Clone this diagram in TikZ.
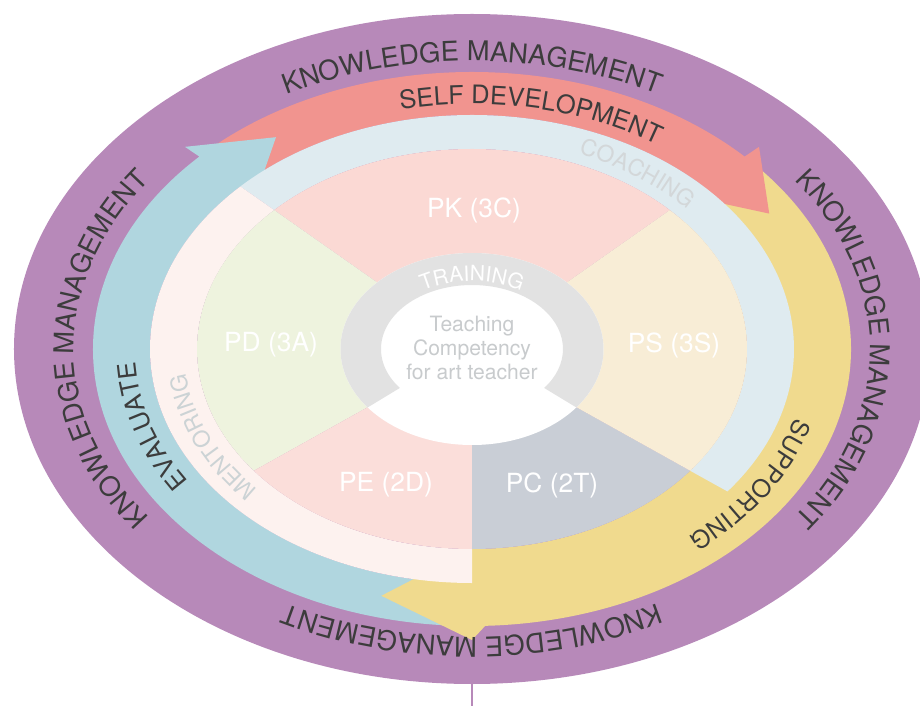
\documentclass[tikz,border=0pt]{standalone}
\usepackage{fontspec}
\setmainfont{TeX Gyre Heros}
\usepackage{tikz}
\usetikzlibrary{decorations.text}
\definecolor{kmpurple}{HTML}{B789B9}
\definecolor{selfred}{HTML}{F1948F}
\definecolor{suppyellow}{HTML}{F0DA8E}
\definecolor{evalblue}{HTML}{B0D6DF}
\definecolor{coachblue}{HTML}{DFEBF0}
\definecolor{mentorpink}{HTML}{FDF2EF}
\definecolor{pkpink}{HTML}{FBD9D4}
\definecolor{pepink}{HTML}{FBDEDA}
\definecolor{pdgreen}{HTML}{EEF3DE}
\definecolor{pscream}{HTML}{F8EDD6}
\definecolor{pcgray}{HTML}{C9CED6}
\definecolor{traingray}{HTML}{E2E2E2}
\definecolor{kmdark}{HTML}{3C3C3C}
\definecolor{coachtext}{HTML}{D3D7D9}
\definecolor{mentortext}{HTML}{CCD3D5}
\definecolor{centertext}{HTML}{C8CBCD}
\newcommand\kmfont{\fontsize{15.5}{18}\selectfont}
\newcommand\arrowfont{\fontsize{14.5}{17}\selectfont}
\newcommand\ringfont{\fontsize{13}{15}\selectfont}
\tikzset{
    % text written along a ring
    ringtext/.style 2 args={
           decorate,
           decoration={text along path,
                       text align=center,
                       text color=#1,
                       text={#2}}},
 %
    % labels of the five parts
    partlabel/.style={
           text=white,
           font=\fontsize{15}{18}\selectfont,
           inner sep=1pt},
 %
    centerlabel/.style={
           text=centertext,
           align=center,
           font=\fontsize{12}{13.7}\selectfont}
}
\begin{document}
\begin{tikzpicture}
  \clip (-9.44,-7.14) rectangle (8.96,6.98);
  % outer ring
  \fill[kmpurple] (0,0) ellipse[x radius=9.16cm, y radius=6.70cm];
  \coordinate (stem) at (0,-7.14);
  \draw[kmpurple, line width=1.4pt] (270:9.16cm and 6.65cm) -- (stem);
  % three arrows
  \fill[suppyellow] (41:7.58cm and 5.54cm) arc[start angle=41, end angle=-90, x radius=7.58cm, y radius=5.54cm]
     -- (-90:5.5cm and 4cm) arc[start angle=-90, end angle=41, x radius=5.5cm, y radius=4cm] -- cycle;
  \fill[selfred] (134:7.58cm and 5.54cm) arc[start angle=134, end angle=44, x radius=7.58cm, y radius=5.54cm]
     -- (44:7.98cm and 5.82cm) -- (32:7.01cm and 5.11cm) -- (44:6.02cm and 4.40cm)
     -- (44:6.44cm and 4.68cm) arc[start angle=44, end angle=134, x radius=6.44cm, y radius=4.68cm] -- cycle;
  \fill[evalblue] (268:7.58cm and 5.54cm) arc[start angle=268, end angle=136, x radius=7.58cm, y radius=5.54cm]
     -- (136:7.98cm and 5.82cm) -- (124:7.01cm and 5.11cm) -- (136:6.02cm and 4.40cm)
     -- (136:6.44cm and 4.68cm) arc[start angle=136, end angle=268, x radius=6.44cm, y radius=4.68cm] -- cycle;
  \fill[suppyellow] (272:7.58cm and 5.54cm) -- (270:7.98cm and 5.82cm) -- (255:7.01cm and 5.11cm)
     -- (270:5.5cm and 4cm) -- (272:5.5cm and 4cm) -- cycle;
  % coaching and mentoring
  \fill[coachblue] (136:6.44cm and 4.68cm) arc[start angle=136, end angle=-37.5, x radius=6.44cm, y radius=4.68cm]
     -- (-37.5:5.5cm and 4cm) arc[start angle=-37.5, end angle=136, x radius=5.5cm, y radius=4cm] -- cycle;
  \fill[mentorpink] (136:6.44cm and 4.68cm) arc[start angle=136, end angle=270, x radius=6.44cm, y radius=4.68cm]
     -- (270:5.5cm and 4cm) arc[start angle=270, end angle=136, x radius=5.5cm, y radius=4cm] -- cycle;
  % five parts
  \fill[pkpink] (0,0) -- (44:5.5cm and 4cm) arc[start angle=44, end angle=136, x radius=5.5cm, y radius=4cm] -- cycle;
  \fill[pdgreen] (0,0) -- (136:5.5cm and 4cm) arc[start angle=136, end angle=217.5, x radius=5.5cm, y radius=4cm] -- cycle;
  \fill[pepink] (0,0) -- (217.5:5.5cm and 4cm) arc[start angle=217.5, end angle=270, x radius=5.5cm, y radius=4cm] -- cycle;
  \fill[pcgray] (0,0) -- (-90:5.5cm and 4cm) arc[start angle=-90, end angle=-37.5, x radius=5.5cm, y radius=4cm] -- cycle;
  \fill[pscream] (0,0) -- (-37.5:5.5cm and 4cm) arc[start angle=-37.5, end angle=44, x radius=5.5cm, y radius=4cm] -- cycle;
  % training ring and centre
  \fill[white] (0,0) ellipse[x radius=2.63cm, y radius=1.92cm];
  \fill[traingray] (-37.5:2.63cm and 1.92cm) arc[start angle=-37.5, end angle=217.5, x radius=2.63cm, y radius=1.92cm]
     -- (217.5:1.82cm and 1.28cm) arc[start angle=217.5, end angle=-37.5, x radius=1.82cm, y radius=1.28cm] -- cycle;
  % ring texts
  \path[ringtext={kmdark}{|\kmfont|KNOWLEDGE MANAGEMENT}] (165:7.96cm and 5.76cm) arc[start angle=165, end angle=15, x radius=7.96cm, y radius=5.76cm];
  \path[ringtext={kmdark}{|\kmfont|KNOWLEDGE MANAGEMENT}] (75:7.96cm and 5.76cm) arc[start angle=75, end angle=-75, x radius=7.96cm, y radius=5.76cm];
  \path[ringtext={kmdark}{|\kmfont|KNOWLEDGE MANAGEMENT}] (-15:7.96cm and 5.76cm) arc[start angle=-15, end angle=-165, x radius=7.96cm, y radius=5.76cm];
  \path[ringtext={kmdark}{|\kmfont|KNOWLEDGE MANAGEMENT}] (255:7.96cm and 5.76cm) arc[start angle=255, end angle=105, x radius=7.96cm, y radius=5.76cm];
  \path[ringtext={kmdark}{|\arrowfont|SELF DEVELOPMENT}] (128:6.74cm and 4.90cm) arc[start angle=128, end angle=28, x radius=6.74cm, y radius=4.90cm];
  \path[ringtext={kmdark}{|\arrowfont|EVALUATE}] (245:6.74cm and 4.90cm) arc[start angle=245, end angle=145, x radius=6.74cm, y radius=4.90cm];
  \path[ringtext={kmdark}{|\fontsize{14}{16}\selectfont|SUPPORTING}] (21:6.74cm and 4.90cm) arc[start angle=21, end angle=-79, x radius=6.74cm, y radius=4.90cm];
  \path[ringtext={coachtext}{|\ringfont|COACHING}] (92:5.76cm and 4.20cm) arc[start angle=92, end angle=12, x radius=5.76cm, y radius=4.20cm];
  \path[ringtext={mentortext}{|\ringfont|MENTORING}] (242:5.76cm and 4.20cm) arc[start angle=242, end angle=162, x radius=5.76cm, y radius=4.20cm];
  \path[ringtext={white}{|\fontsize{12}{14}\selectfont|TRAINING}] (150:1.92cm and 1.36cm) arc[start angle=150, end angle=30, x radius=1.92cm, y radius=1.36cm];
  % part labels
  \node[partlabel] (pk) at (0.04,2.78) {PK (3C)};
  \node[partlabel] (pd) at (-4.02,0.08) {PD (3A)};
  \node[partlabel] (ps) at (4.04,0.08) {PS (3S)};
  \node[partlabel] (pe) at (-1.72,-2.72) {PE (2D)};
  \node[partlabel] (pc) at (1.60,-2.72) {PC (2T)};
  \node[centerlabel] (core) at (0,0.02) {Teaching\\Competency\\for art teacher};
\end{tikzpicture}
\end{document}
